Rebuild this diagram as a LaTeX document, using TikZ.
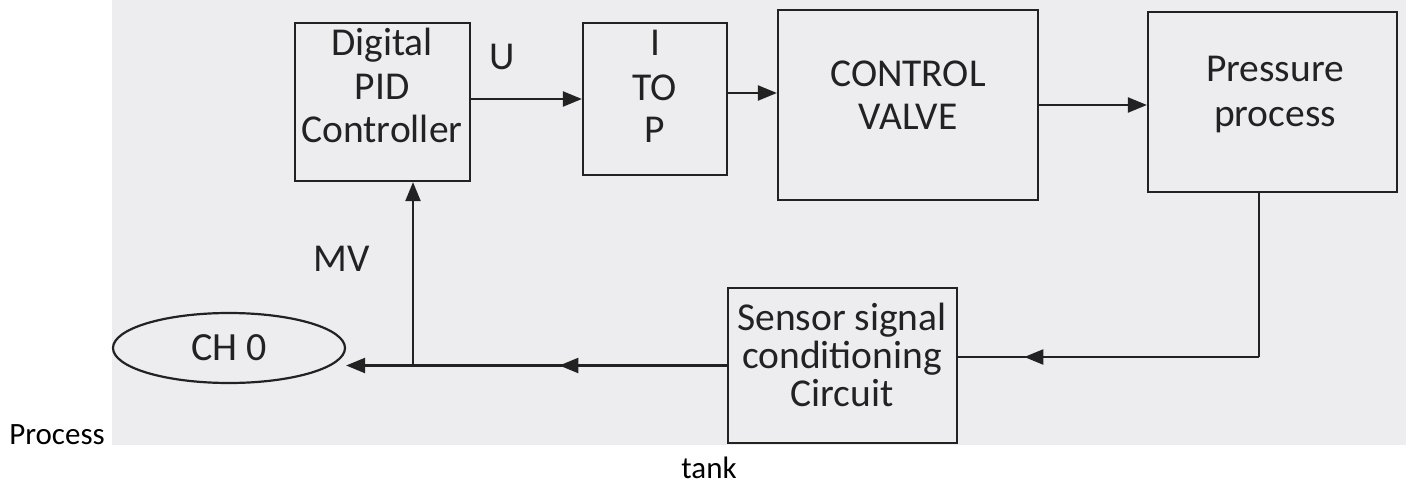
\documentclass[tikz,border=0pt]{standalone}
\usepackage{fontspec}
\setmainfont{Carlito}
\usetikzlibrary{arrows.meta,shapes.geometric,decorations.markings}
\definecolor{bgc}{RGB}{237,237,239}
\definecolor{ink}{RGB}{34,34,34}
\begin{document}
\begin{tikzpicture}[x=1pt,y=-1pt,
  box/.style={draw=ink,line width=2.2pt,rectangle,inner sep=0pt},
  lbl/.style={text=ink,font=\fontsize{39.5}{44}\selectfont,inner sep=0pt,anchor=base},
  captxt/.style={text=black,font=\fontsize{31}{36}\selectfont,inner sep=0pt,anchor=base},
  ln/.style={draw=ink,line width=2.2pt},
  arr/.style={ln,-{Triangle[length=19pt,width=15pt]}},
  midarr/.style={postaction=decorate,decoration={markings,
      mark=at position #1 with {\arrow{Triangle[length=19pt,width=15pt]}}}}]
\useasboundingbox[fill=white] (0,0) rectangle (1406,484);
\fill[bgc] (112,0) rectangle (1406,445);

% blocks
\node[box,minimum width=175pt,minimum height=158pt] (pid) at (382.5,102) {};
\node[box,minimum width=144pt,minimum height=152pt] (itop) at (655,99) {};
\node[box,minimum width=260pt,minimum height=190pt] (cv) at (908,105) {};
\node[box,minimum width=249pt,minimum height=180pt] (pp) at (1272.5,102) {};
\node[box,minimum width=229pt,minimum height=155pt] (sens) at (842.5,365.5) {};
\node[draw=ink,line width=2.2pt,ellipse,minimum width=232pt,minimum height=70pt,inner sep=0pt,
      text=ink,font=\fontsize{40}{44}\selectfont] (ch) at (229,348) {CH 0};

% block texts
\node[lbl] (pid1) at (382,56) {Digital};
\node[lbl] (pid2) at (382,100) {PID};
\node[lbl] (pid3) at (382,143) {Controller};
\node[lbl] (itop1) at (655,56) {I};
\node[lbl] (itop2) at (655,101) {TO};
\node[lbl] (itop3) at (655,143) {P};
\node[lbl] (cv1) at (908,87) {CONTROL};
\node[lbl] (cv2) at (908,130) {VALVE};
\node[lbl] (pp1) at (1275,82) {Pressure};
\node[lbl] (pp2) at (1275,127) {process};
\node[lbl] (s1) at (842,330) {Sensor signal};
\node[lbl] (s2) at (842,368) {conditioning};
\node[lbl] (s3) at (842,406) {Circuit};

% signal labels
\node[lbl] (u) at (502,70) {U};
\node[lbl] (mv) at (342,271) {MV};

% connectors
\draw[arr] (itop.west -| pid.east) -- (itop.west);
\draw[arr] ([yshift=6pt]itop.east) -- ([yshift=6pt]itop.east -| cv.west);
\draw[arr] (cv.east) -- (cv.east -| pp.west);
\coordinate (pc) at (1259,357);
\draw[ln] (pc |- pp.south) -- (pc);
\draw[ln,midarr=0.78] (pc) -- (pc -| sens.east);
\draw[arr,midarr=0.44] (sens.west) -- (sens.west -| ch.east);
\coordinate (j) at (413,365.5);
\draw[arr] (j) -- (j |- pid.south);

% caption fragments
\node[captxt] (proc) at (57,444) {Process};
\node[captxt] (tank) at (709,478) {tank};
\end{tikzpicture}
\end{document}
